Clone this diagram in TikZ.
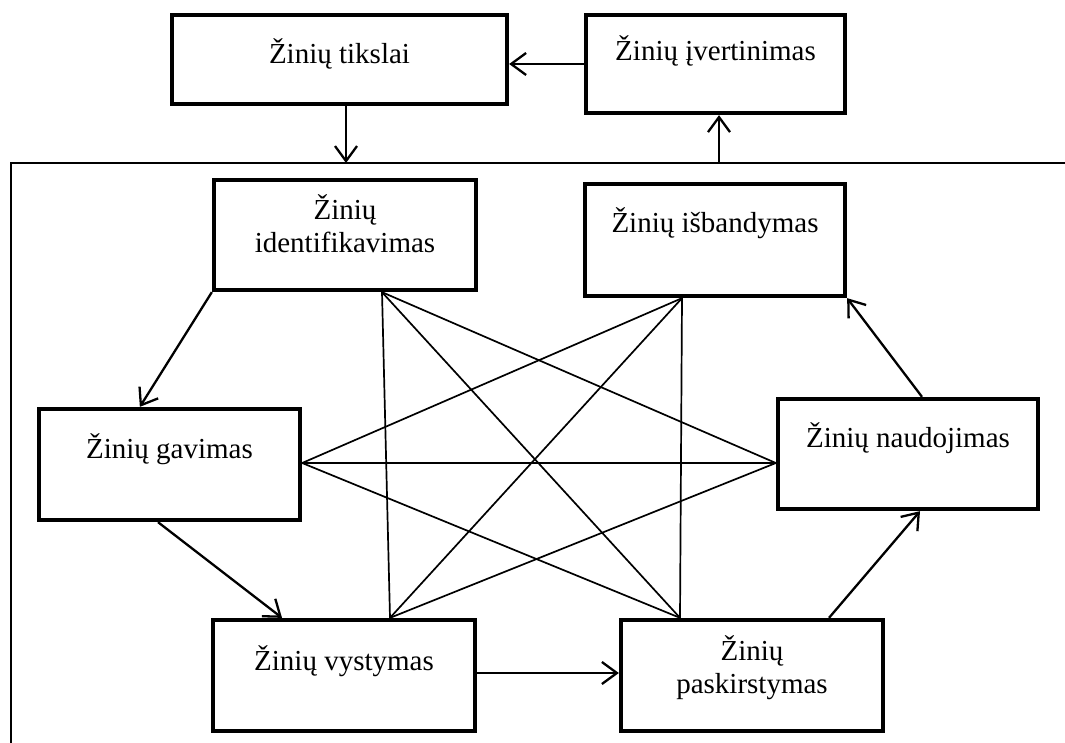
\documentclass[tikz,border=0pt]{standalone}
\usepackage{fontspec}
\setmainfont{Liberation Serif}
\usetikzlibrary{arrows.meta}
\begin{document}
\begin{tikzpicture}[x=1pt,y=-1pt,
  stagebox/.style={draw, line width=4.3pt, inner sep=0pt, anchor=center},
  caption/.style={inner sep=0pt, font=\fontsize{29}{33}\selectfont, align=center, anchor=base},
  flow/.style={line width=2.3pt, -{Straight Barb[length=15pt,width=22pt,line width=2.3pt]}},
  link/.style={line width=1.7pt},
  border/.style={line width=2.2pt}]
\useasboundingbox (0,0) rectangle (1065,743);

% stage boxes
\node[stagebox, minimum width=335pt, minimum height=89pt]  (tik)  at (339.5,59.5) {};
\node[stagebox, minimum width=259pt, minimum height=98pt]  (ivert) at (715.5,64) {};
\node[stagebox, minimum width=262pt, minimum height=110pt] (ident) at (345,235) {};
\node[stagebox, minimum width=260pt, minimum height=112pt] (isb)  at (715,240) {};
\node[stagebox, minimum width=261pt, minimum height=111pt] (gav)  at (169.5,464.5) {};
\node[stagebox, minimum width=260pt, minimum height=110pt] (naud) at (908,454) {};
\node[stagebox, minimum width=262pt, minimum height=111pt] (vyst) at (344,675.5) {};
\node[stagebox, minimum width=262pt, minimum height=111pt] (pask) at (752,675.5) {};

% captions (base = baseline of the last line)
\node[caption] (tTik)   at (339.5,64) {Žinių tikslai};
\node[caption] (tIvert) at (715.5,61) {Žinių įvertinimas};
\node[caption] (tIdent) at (345,253) {Žinių\\identifikavimas};
\node[caption] (tIsb)   at (715,233) {Žinių išbandymas};
\node[caption] (tGav)   at (169.5,458) {Žinių gavimas};
\node[caption] (tNaud)  at (908,447) {Žinių naudojimas};
\node[caption] (tVyst)  at (344,670) {Žinių vystymas};
\node[caption] (tPask)  at (752,693) {Žinių\\paskirstymas};

% open frame around the inner cycle
\coordinate (fTL) at (11,163);
\coordinate (fTR) at (1065,163);
\coordinate (fBL) at (11,743);
\draw[border] (fTR) -- (fTL) -- (fBL);

% cycle arrows
\draw[flow] (ivert.west) -- (ivert.west -| tik.east);
\draw[flow] ([xshift=6.5pt]tik.south) -- ([xshift=6.5pt]tik.south |- fTL);
\draw[flow] ([xshift=3.5pt]ivert.south |- fTL) -- ([xshift=3.5pt]ivert.south);
\draw[flow] (ident.south west) -- ([xshift=103pt]gav.north west);
\draw[flow] ([xshift=-11.5pt]gav.south) -- ([xshift=-62pt]vyst.north);
\draw[flow] ([yshift=2.5pt]vyst.east) -- ([yshift=2.5pt]vyst.east -| pask.west);
\draw[flow] ([xshift=77pt]pask.north) -- ([xshift=12pt]naud.south);
\draw[flow] ([xshift=14pt]naud.north) -- (isb.south east);

% cross links between stages
\coordinate (pA) at ([xshift=37pt]ident.south);
\coordinate (pB) at ([xshift=-33pt]isb.south);
\coordinate (pC) at ([yshift=1.5pt]gav.east);
\coordinate (pD) at ([yshift=-9pt]naud.west);
\coordinate (pE) at ([xshift=46pt]vyst.north);
\coordinate (pF) at ([xshift=-72pt]pask.north);
\draw[link] (pA) -- (pE);
\draw[link] (pA) -- (pF);
\draw[link] (pA) -- (pD);
\draw[link] (pB) -- (pC);
\draw[link] (pB) -- (pE);
\draw[link] (pB) -- (pF);
\draw[link] (pC) -- (pD);
\draw[link] (pC) -- (pF);
\draw[link] (pD) -- (pE);
\end{tikzpicture}
\end{document}
